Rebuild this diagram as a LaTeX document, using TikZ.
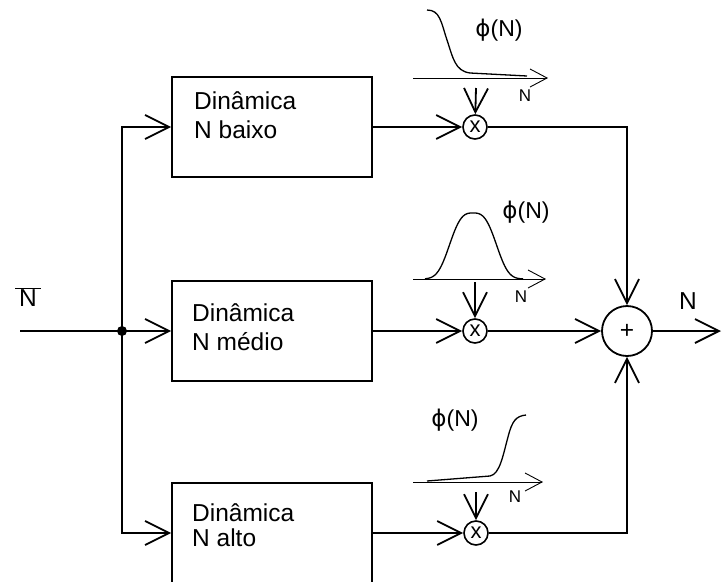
\documentclass[tikz,border=0pt]{standalone}
\usepackage{fontspec}
\setmainfont{Liberation Sans}
\newfontfamily\grego{DejaVu Sans}
\usetikzlibrary{arrows.meta}

\begin{document}
\begin{tikzpicture}[x=1pt,y=-1pt,>={Straight Barb[length=24pt,width=24pt]},
  every node/.style={font=\fontsize{24.5}{29}\selectfont,inner sep=0pt},
  blk/.style={draw,line width=1.8pt,minimum width=200pt,minimum height=100pt},
  txt/.style={align=left,anchor=base west},
  mult/.style={draw,circle,line width=1.6pt,minimum size=24pt,font=\fontsize{22}{22}\selectfont},
  soma/.style={draw,circle,line width=1.8pt,minimum size=50pt},
  conn/.style={line width=1.8pt},
  eixo/.style={line width=0.9pt,-{Straight Barb[length=17pt,width=18pt]}},
  curva/.style={line width=1.3pt},
  phi/.style={font=\fontsize{23}{23}\selectfont},
  small/.style={font=\fontsize{17}{17}\selectfont}]
\useasboundingbox (0,0) rectangle (722,581);

% Entrada
\coordinate (ent) at (20,331);
\coordinate (split) at (122,331);
\node (nbar) at (28,297) {$\overline{\mbox{\,N\,}}$};

% Blocos de dinamica
\node[blk] (dlo) at (272,127) {};
\node[blk] (dme) at (272,331) {};
\node[blk] (dal) at (272,533) {};
\node[txt] (tlo) at (194,138) {Dinâmica\\N baixo};
\node[txt] (tme) at (192,350) {Dinâmica\\N médio};
\node[txt] (tal) at (192,546) {Dinâmica\\[-4pt]N alto};

% Multiplicadores e soma
\node[mult] (mlo) at (475,127) {x};
\node[mult] (mme) at (475,331) {x};
\node[mult] (mal) at (476,533) {x};
\node[soma] (sum) at (627,331) {\raisebox{-4pt}{+}};
\coordinate (sai) at (721,331);
\node (nsai) at (688,301) {N};

% Ligacoes
\draw[conn] (ent) -- (split);
\fill (split) circle (5);
\draw[conn,->] (split) |- (dlo.west);
\draw[conn,->] (split) -- (dme.west);
\draw[conn,->] (split) |- (dal.west);
\draw[conn,->] (dlo) -- (mlo);
\draw[conn,->] (dme) -- (mme);
\draw[conn,->] (dal) -- (mal);
\draw[conn,->] (mlo) -| (sum);
\draw[conn,->] (mme) -- (sum);
\draw[conn,->] (mal) -| (sum);
\draw[conn,->] (sum) -- (sai);

% Pertinencia N baixo
\draw[eixo] (413,78) -- (548,78);
\draw[curva] (427,10) .. controls (440,10) and (441,22) .. (447,40)
  .. controls (453,58) and (455,71) .. (470,73) -- (527,76);
\node[phi] (plo) at (499,30) {{\grego ϕ}(N)};
\node[small] (elo) at (525,96) {N};
\coordinate (flo) at (476,88);
\draw[conn,->] (flo) -- (mlo);

% Pertinencia N medio
\draw[eixo] (413,279) -- (546,279);
\draw[curva] plot[domain=425:523,samples=60] (\x,{279-66*exp(0-abs((\x-473)/27)^3)});
\node[phi] (pme) at (526,212) {{\grego ϕ}(N)};
\node[small] (eme) at (521,297) {N};
\coordinate (fme) at (475,282);
\draw[conn,->] (fme) -- (mme);

% Pertinencia N alto
\draw[eixo] (413,482) -- (543,482);
\draw[curva] (427,481) -- (490,476) .. controls (500,474) and (503,455) .. (508,437)
  .. controls (512,421) and (516,416) .. (526,415);
\node[phi] (pal) at (455,420) {{\grego ϕ}(N)};
\node[small] (eal) at (515,497) {N};
\coordinate (fal) at (476,492);
\draw[conn,->] (fal) -- (mal);
\end{tikzpicture}
\end{document}
